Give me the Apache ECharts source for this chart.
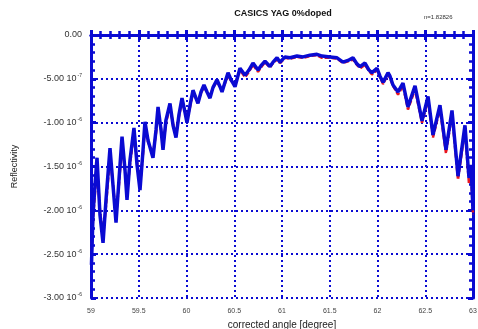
<!DOCTYPE html>
<html><head><meta charset="utf-8">
<script src="https://cdn.jsdelivr.net/npm/echarts@6/dist/echarts.min.js"></script>
<style>html,body{margin:0;padding:0;background:#fff}#c{width:478px;height:329px}</style>
</head><body><div id="c"></div>
<script>
// corrected angle [degree]
const angle = [59.005, 59.021, 59.042, 59.063, 59.094, 59.126, 59.157, 59.199, 59.230, 59.262,
  59.293, 59.325, 59.356, 59.377, 59.408, 59.450, 59.482, 59.513, 59.545, 59.565,
  59.597, 59.649, 59.681, 59.702, 59.733, 59.754, 59.785, 59.827, 59.859, 59.890,
  59.921, 59.953, 59.984, 60.005, 60.037, 60.068, 60.099, 60.120, 60.152, 60.183,
  60.215, 60.246, 60.277, 60.319, 60.351, 60.372, 60.403, 60.435, 60.466, 60.508,
  60.560, 60.613, 60.654, 60.696, 60.749, 60.780, 60.822, 60.874, 60.906, 60.948,
  60.979, 61.031, 61.084, 61.157, 61.220, 61.293, 61.366, 61.419, 61.503, 61.576,
  61.639, 61.691, 61.743, 61.785, 61.817, 61.869, 61.911, 61.942, 61.995, 62.026,
  62.058, 62.110, 62.131, 62.162, 62.215, 62.267, 62.319, 62.393, 62.466, 62.529,
  62.581, 62.654, 62.717, 62.780, 62.843, 62.916, 62.958, 62.979, 63.000];
// reflectivity, in units of 1e-6 (measured, blue)
const measured = [-2.62, -2.05, -1.71, -1.40, -2.05, -2.37, -1.88, -1.29, -1.71, -2.14,
  -1.65, -1.16, -1.54, -1.88, -1.43, -1.06, -1.48, -1.77, -1.31, -0.99,
  -1.20, -1.40, -1.08, -0.82, -1.08, -1.31, -0.97, -0.78, -1.03, -1.17,
  -0.91, -0.72, -0.88, -1.00, -0.80, -0.63, -0.72, -0.78, -0.65, -0.57,
  -0.65, -0.72, -0.60, -0.51, -0.59, -0.65, -0.54, -0.43, -0.51, -0.59,
  -0.38, -0.46, -0.40, -0.32, -0.40, -0.35, -0.30, -0.36, -0.31, -0.26,
  -0.31, -0.25, -0.26, -0.24, -0.25, -0.23, -0.22, -0.24, -0.25, -0.26,
  -0.31, -0.29, -0.26, -0.33, -0.36, -0.32, -0.40, -0.43, -0.38, -0.47,
  -0.54, -0.43, -0.47, -0.57, -0.65, -0.55, -0.82, -0.58, -0.98, -0.70,
  -1.14, -0.80, -1.31, -0.86, -1.61, -1.03, -1.63, -1.48, -2.00];
// reflectivity, in units of 1e-6 (fit, red dashed)
const fitted = [-2.55, -2.10, -1.80, -1.50, -2.00, -2.30, -1.95, -1.38, -1.70, -2.08,
  -1.70, -1.25, -1.55, -1.82, -1.48, -1.12, -1.45, -1.72, -1.35, -1.05,
  -1.22, -1.36, -1.12, -0.88, -1.07, -1.27, -1.00, -0.82, -1.01, -1.13,
  -0.93, -0.76, -0.87, -0.97, -0.82, -0.66, -0.72, -0.76, -0.66, -0.59,
  -0.65, -0.70, -0.60, -0.53, -0.59, -0.63, -0.55, -0.46, -0.52, -0.57,
  -0.40, -0.48, -0.42, -0.34, -0.42, -0.37, -0.31, -0.37, -0.32, -0.28,
  -0.32, -0.26, -0.27, -0.25, -0.26, -0.24, -0.23, -0.26, -0.26, -0.27,
  -0.32, -0.30, -0.28, -0.34, -0.38, -0.34, -0.41, -0.45, -0.40, -0.48,
  -0.56, -0.45, -0.49, -0.58, -0.68, -0.58, -0.85, -0.62, -1.00, -0.74,
  -1.17, -0.84, -1.35, -0.90, -1.65, -1.08, -1.70, -1.55, -2.05];
const xTicks = [59, 59.5, 60, 60.5, 61, 61.5, 62, 62.5, 63];
const yTicks = [0, -0.5, -1, -1.5, -2, -2.5, -3];
const titleText = 'CASICS YAG 0%doped';
const noteText = 'n=1.82826';

const BLUE = '#0a0ad2';
const font = 'Liberation Sans, Arial, sans-serif';
function yFmt(v) {
  if (Math.abs(v) < 1e-9) return '{m|0.00}';
  const a = v * 1e-6;
  const e = Math.floor(Math.log10(Math.abs(a)) + 1e-9);
  const m = a / Math.pow(10, e);
  return '{m|' + m.toFixed(2) + ' 10}{s|' + e + '}';
}
const tickCommon = {
  axisLine: {show: true, lineStyle: {color: BLUE, width: 3}},
  axisTick: {show: true, inside: true, length: 5, lineStyle: {color: BLUE, width: 3}},
  minorTick: {show: true, splitNumber: 5, length: 4, lineStyle: {color: BLUE, width: 2.5}}
};
const chart = echarts.init(document.getElementById('c'), null, {renderer: 'canvas'});
chart.setOption({
  animation: false,
  backgroundColor: '#fff',
  title: [
    {text: titleText, left: 278, top: 4, textAlign: 'center',
     textStyle: {fontFamily: font, fontSize: 9, fontWeight: 'bold', color: '#111'}},
    {text: noteText, left: 419, top: 9,
     textStyle: {fontFamily: font, fontSize: 6, fontWeight: 'normal', color: '#333'}}
  ],
  grid: {left: 91, top: 35, width: 382, height: 263, containLabel: false, outerBoundsMode: 'none'},
  xAxis: [
    Object.assign({type: 'value', min: xTicks[0], max: xTicks[xTicks.length - 1], interval: 0.5,
      position: 'bottom',
      name: 'corrected angle [degree]', nameLocation: 'middle', nameGap: 22,
      nameTextStyle: {fontFamily: font, fontSize: 10, color: '#222'},
      axisLabel: {fontFamily: font, fontSize: 7, color: '#444', margin: 10,
        formatter: v => String(+v.toFixed(1))},
      splitLine: {show: true, lineStyle: {color: BLUE, width: 2, type: [2, 3]}}}, tickCommon),
    Object.assign({type: 'value', min: xTicks[0], max: xTicks[xTicks.length - 1], interval: 0.5,
      position: 'top', axisLabel: {show: false}, splitLine: {show: false}}, tickCommon)
  ],
  yAxis: [
    Object.assign({type: 'value', min: yTicks[yTicks.length - 1], max: yTicks[0], interval: 0.5,
      position: 'left',
      name: 'Reflectivity', nameLocation: 'middle', nameGap: 72, nameRotate: 90,
      nameTextStyle: {fontFamily: font, fontSize: 9, color: '#222'},
      axisLabel: {margin: 9, formatter: yFmt,
        rich: {m: {fontFamily: font, fontSize: 9, lineHeight: 11, color: '#333'},
               s: {fontFamily: font, fontSize: 5, lineHeight: 5, color: '#333', verticalAlign: 'top', padding: [0, 0, 0, 1]}}},
      splitLine: {show: true, lineStyle: {color: BLUE, width: 2, type: [2, 3]}}}, tickCommon),
    Object.assign({type: 'value', min: yTicks[yTicks.length - 1], max: yTicks[0], interval: 0.5,
      position: 'right', axisLabel: {show: false}, splitLine: {show: false}}, tickCommon)
  ],
  series: [
    {type: 'line', name: 'fit', xAxisIndex: 0, yAxisIndex: 0, showSymbol: false, z: 3,
     data: angle.map((a, i) => [a, fitted[i]]),
     lineStyle: {color: '#e8141e', width: 2.5, type: [5, 2]}},
    {type: 'line', name: 'measured', xAxisIndex: 0, yAxisIndex: 0, showSymbol: false, z: 4,
     data: angle.map((a, i) => [a, measured[i]]),
     lineStyle: {color: BLUE, width: 3.5}}
  ]
});
</script></body></html>
